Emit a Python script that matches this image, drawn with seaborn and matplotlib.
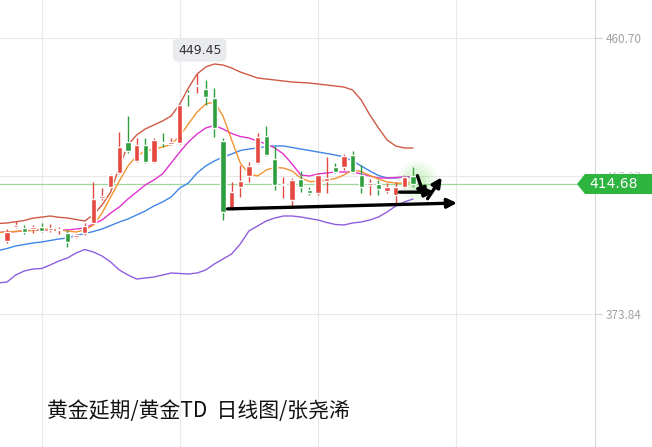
import numpy as np
import pandas as pd
import seaborn as sns
import matplotlib.pyplot as plt
from matplotlib.patches import Polygon

# daily candles (open, high, low, close)
opens = [396.83, 401.23, 400.91, 400.60, 401.23, 400.29, 400.29, 399.34, 398.20, 399.34,
         402.49, 410.35, 413.82, 418.22, 427.98, 422.00, 427.03, 421.68, 427.98, 427.35,
         427.66, 443.40, 445.60, 444.65, 441.82, 428.29, 407.21, 413.82, 417.28, 421.37,
         429.86, 422.63, 414.30, 409.72, 416.33, 412.87, 411.93, 415.70, 420.11, 420.11,
         423.88, 417.59, 414.60, 414.76, 412.56, 411.30, 413.82, 417.28]
highs = [400.60, 403.12, 401.86, 401.86, 402.49, 402.17, 401.23, 400.29, 399.00, 402.49,
         415.39, 413.50, 417.80, 431.12, 436.16, 429.23, 429.23, 429.23, 430.81, 429.23,
         439.90, 444.30, 449.45, 447.48, 444.97, 429.23, 415.39, 420.74, 421.68, 430.81,
         433.01, 426.72, 416.96, 416.65, 418.85, 413.82, 418.22, 423.26, 421.37, 424.20,
         425.14, 420.74, 416.33, 416.02, 415.07, 415.39, 417.59, 420.11]
lows = [396.20, 400.91, 399.03, 399.34, 399.66, 399.66, 399.03, 394.94, 397.90, 398.71,
        402.30, 409.72, 413.60, 418.00, 424.51, 421.68, 421.37, 421.50, 426.40, 427.03,
        427.40, 439.30, 443.39, 439.62, 429.55, 403.43, 406.58, 410.67, 415.39, 421.05,
        423.57, 412.87, 410.35, 407.52, 412.24, 411.30, 411.30, 411.93, 418.22, 419.17,
        418.22, 411.93, 411.30, 411.30, 411.93, 408.78, 413.50, 413.82]
closes = [399.66, 401.86, 399.66, 401.23, 399.97, 400.91, 400.45, 396.51, 398.60, 401.54,
          410.04, 410.98, 417.59, 426.40, 425.14, 427.03, 421.68, 428.60, 427.66, 427.98,
          439.62, 443.10, 445.91, 442.13, 432.38, 405.95, 412.24, 415.70, 420.42, 429.55,
          423.88, 414.44, 414.60, 416.02, 413.82, 411.93, 417.59, 416.65, 418.54, 423.57,
          418.54, 413.82, 414.90, 413.19, 413.82, 413.82, 416.96, 414.68]

# indicator lines, from the day before the first candle to the last candle
upper_band = [402.33, 402.49, 402.87, 403.28, 404.03, 404.34, 404.69, 404.28, 404.06, 403.59,
              403.12, 405.00, 408.15, 412.24, 420.11, 427.03, 430.18, 432.07, 433.33, 434.58,
              436.16, 439.93, 444.97, 449.37, 451.58, 452.52, 452.20, 451.26, 450.00, 449.06,
              448.11, 447.80, 447.48, 447.17, 446.85, 446.70, 446.54, 446.22, 445.91, 445.59,
              445.28, 444.34, 441.19, 436.47, 432.38, 428.60, 426.72, 426.09, 426.09]
lower_band = [383.61, 383.92, 386.12, 387.38, 388.01, 388.17, 389.27, 390.53, 391.47, 393.05,
              394.15, 393.36, 392.10, 390.21, 387.70, 386.12, 384.86, 385.18, 385.49, 386.12,
              386.75, 386.60, 386.44, 386.75, 387.70, 389.59, 391.16, 392.73, 395.88, 399.97,
              401.54, 403.12, 404.06, 404.69, 404.69, 404.38, 403.90, 403.43, 402.65, 402.02,
              401.86, 402.49, 402.80, 403.43, 404.38, 405.95, 407.84, 409.10, 410.04]
ma_blue = [393.83, 394.46, 395.25, 395.72, 396.20, 396.51, 396.98, 397.45, 397.77, 398.55,
           399.18, 399.81, 400.60, 401.70, 402.80, 403.75, 405.00, 406.26, 407.84, 409.10,
           410.67, 413.50, 415.07, 418.22, 420.42, 422.00, 423.26, 424.20, 425.30, 425.77,
           426.09, 426.56, 426.72, 426.72, 426.25, 425.77, 425.30, 424.83, 424.36, 423.88,
           423.26, 422.00, 420.42, 418.85, 417.43, 416.65, 416.65, 416.96, 416.96]
ma_pink = [399.50, 399.66, 399.81, 399.97, 400.29, 400.29, 400.29, 400.29, 400.29, 400.60,
           400.91, 402.17, 403.43, 405.63, 407.52, 410.04, 412.24, 414.44, 416.02, 417.91,
           421.37, 424.83, 427.98, 430.50, 432.38, 433.17, 432.07, 430.65, 429.71, 429.23,
           428.29, 427.35, 426.09, 424.20, 421.05, 417.59, 417.28, 417.91, 418.22, 418.54,
           418.54, 418.54, 417.91, 417.28, 416.65, 416.65, 416.81, 416.96, 416.96]
ma_orange = [399.50, 399.66, 399.81, 399.97, 400.13, 400.60, 400.44, 400.29, 399.97, 399.66,
             400.29, 401.86, 405.63, 410.67, 415.70, 420.42, 423.57, 425.14, 425.77, 426.40,
             427.19, 429.86, 433.64, 437.41, 439.93, 440.56, 436.16, 428.60, 421.37, 417.91,
             417.28, 419.17, 419.95, 419.79, 418.85, 416.65, 415.55, 415.55, 416.02, 416.49,
             417.59, 419.17, 418.69, 417.43, 416.33, 415.39, 415.07, 414.91, 415.39]

y_ticks = [460.70, 417.27, 373.84]
last_price = 414.68
peak_label = "449.45"
title = "黄金延期/黄金TD  日线图/张尧浠"

# hand drawn arrows (candle index, price)
support = [(25.2, 406.9), (52.4, 408.8)]
short_arrow = [(45.1, 412.2), (49.8, 412.2)]
v_path = [(47.4, 418.2), (48.5, 409.4), (50.5, 417.6)]

sns.set_style("white")
plt.rcParams['font.family'] = ['Noto Sans CJK SC', 'DejaVu Sans']

fig = plt.figure(figsize=(6.52, 4.47), dpi=100)
ax = fig.add_axes([0, 0, 595 / 652, 1])

n = len(opens)
x = np.arange(n)
lx = np.arange(-1, n)

lines = pd.DataFrame({
    "x": np.tile(lx, 5),
    "price": upper_band + lower_band + ma_blue + ma_pink + ma_orange,
    "line": np.repeat(["upper", "lower", "blue", "pink", "orange"], len(lx)),
})
palette = {"upper": "#cf5a44", "lower": "#8f5ee0", "blue": "#3f86e8",
           "pink": "#e331cf", "orange": "#f39330"}
sns.lineplot(data=lines, x="x", y="price", hue="line", palette=palette,
             legend=False, linewidth=1.0, sort=False, ax=ax, zorder=3)

o = np.array(opens); c = np.array(closes)
cols = np.where(c >= o, "#e5483f", "#2e9f3e")
ax.vlines(x, lows, highs, colors=cols, linewidth=1.0, zorder=4)
ax.bar(x, np.maximum(np.abs(c - o), 0.35), bottom=np.minimum(o, c), width=0.62,
       color=cols, zorder=5)

# glow on the last candle
for s, a in [(900, 0.06), (600, 0.08), (350, 0.1), (150, 0.12)]:
    ax.scatter([x[-1] + 0.4], [last_price + 1.0], s=s, color="#74dc5e", alpha=a,
               linewidths=0, zorder=4)

ax.axhline(last_price, color="#9fd89a", linewidth=0.9, zorder=2)

# drawn trend arrows
arr = dict(arrowstyle="-|>", color="black", lw=2.4, mutation_scale=14)
ax.annotate("", xy=support[1], xytext=support[0], arrowprops=arr, zorder=7)
ax.annotate("", xy=short_arrow[1], xytext=short_arrow[0], arrowprops=arr, zorder=7)
ax.annotate("", xy=v_path[1], xytext=v_path[0], arrowprops=arr, zorder=7)
ax.annotate("", xy=v_path[2], xytext=v_path[1], arrowprops=arr, zorder=7)

ax.text(22.3, 456.9, peak_label, ha="center", va="center", fontsize=9, color="#333333",
        family=["DejaVu Sans"],
        bbox=dict(boxstyle="round,pad=0.4", fc="#e9ebee", ec="none"), zorder=8)

ax.set_xlim(-0.81, 68.06)
ax.set_ylim(332.0, 472.66)
ax.set_xticks([4, 20, 36, 52])
ax.set_xticklabels([])
ax.set_yticks(y_ticks)
ax.set_yticklabels([f"{v:.2f}" for v in y_ticks])
ax.yaxis.tick_right()
ax.tick_params(axis="x", length=0)
ax.tick_params(axis="y", length=5, color="#d3d3d3", labelcolor="#a3a3a3",
               labelsize=8.5, pad=3)
# the middle label sits behind the price tag and is faint
ax.get_yticklabels()[1].set_color("#d0d0d0")
ax.grid(True, color="#e8e8e8", linewidth=0.8)
ax.set_axisbelow(True)
ax.set_xlabel("")
ax.set_ylabel("")
for side in ["top", "left", "bottom"]:
    ax.spines[side].set_visible(False)
ax.spines["right"].set_color("#d7d7d7")
ax.spines["right"].set_linewidth(0.8)

# price tag on the right
W, H = 652.0, 447.0
yc = 184
tag = [(577, yc), (585, yc - 10), (652, yc - 10), (652, yc + 10), (585, yc + 10)]
fig.add_artist(Polygon([(px / W, 1 - py / H) for px, py in tag], closed=True,
                       transform=fig.transFigure, fc="#2db540", ec="none", zorder=5))
fig.text(614 / W, 1 - yc / H, f"{last_price:.2f}", ha="center", va="center",
         color="white", fontsize=10, family=["DejaVu Sans"], zorder=6)

fig.text(47 / W, 1 - 411 / H, title, ha="left", va="center", fontsize=15, color="#111111")

fig.savefig("out.png", dpi=100)
